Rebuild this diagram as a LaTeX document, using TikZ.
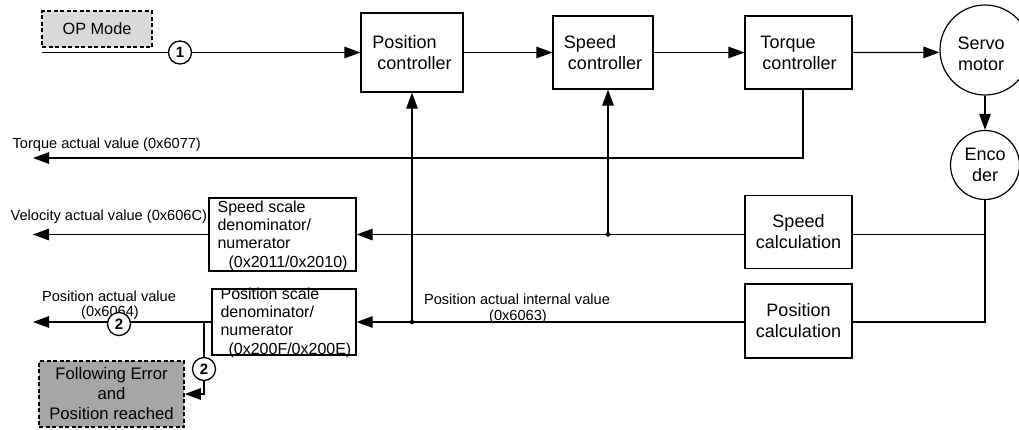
\documentclass[tikz,border=0pt]{standalone}
\usepackage{fontspec}
\setmainfont{Liberation Sans}
\usetikzlibrary{arrows.meta}
\definecolor{opgray}{RGB}{217,217,217}
\definecolor{fegray}{RGB}{166,166,166}
\begin{document}
\begin{tikzpicture}[x=1pt,y=-1pt,line width=1.2pt,
  arr/.style={-{Triangle[length=16pt,width=11.5pt]}},
  blk/.style={draw,line width=1.2pt,inner sep=0pt,font=\fontsize{18}{21}\selectfont},
  scalebox/.style={draw,line width=1.2pt,inner sep=0pt},
  scaletxt/.style={anchor=north west,inner sep=0pt,align=left,font=\fontsize{16}{18.2}\selectfont},
  dashbox/.style={draw,line width=1.7pt,dash pattern=on 4pt off 2.5pt,inner sep=0pt},
  small/.style={inner sep=0pt,font=\fontsize{14.6}{17.5}\selectfont,align=center},
  num/.style={circle,draw,fill=white,line width=1.3pt,inner sep=0pt,minimum size=23pt,font=\bfseries\fontsize{15}{15}\selectfont},
  dot/.style={circle,fill,inner sep=0pt,minimum size=4.5pt}
]
\clip (0,0) rectangle (1019,429);
\fill[white] (0,0) rectangle (1019,429);

% top row
\node[dashbox,fill=opgray,minimum width=110pt,minimum height=36pt,font=\fontsize{16.3}{19}\selectfont] (op) at (97,29) {OP Mode};
\node[blk,minimum width=102pt,minimum height=79pt,align=left] (pc) at (412,52.5) {Position\\\hspace*{5pt}controller};
\node[blk,minimum width=100pt,minimum height=73pt,align=left] (sc) at (603,52.5) {Speed\\\hspace*{4pt}controller};
\node[blk,minimum width=107pt,minimum height=73pt,align=left] (tc) at (798.5,52.5) {Torque\\\hspace*{2pt}controller};
\node[circle,draw,line width=1.2pt,minimum size=90pt,inner sep=0pt] (sm) at (985,50) {};
\node[inner sep=0pt,align=center,font=\fontsize{18}{21}\selectfont] (smt) at (981,54) {Servo\\motor};
\node[circle,draw,line width=1.2pt,minimum size=69pt,inner sep=0pt,align=center,font=\fontsize{18}{21}\selectfont] (enc) at (985,165) {Enco\\der};

% calculation boxes
\node[blk,minimum width=107pt,minimum height=73pt,align=center] (scalc) at (798.5,232) {Speed\\calculation};
\node[blk,minimum width=107pt,minimum height=74pt,align=center] (pcalc) at (798.5,321) {Position\\calculation};

% scale boxes
\node[scalebox,minimum width=147pt,minimum height=73pt] (ss) at (282.5,234.5) {};
\node[scaletxt] (sst) at (217,200.3) {Speed scale\\denominator/\\numerator\\\hspace*{11pt}(0x2011/0x2010)};
\node[scalebox,minimum width=144pt,minimum height=66pt] (ps) at (284,322) {};
\node[scaletxt] (pst) at (220,287.3) {Position scale\\denominator/\\numerator\\\hspace*{8pt}(0x200F/0x200E)};

% following error box
\node[dashbox,fill=fegray,minimum width=145pt,minimum height=66pt,align=center,font=\fontsize{16.7}{20}\selectfont] (fe) at (111.5,394) {Following Error\\and\\Position reached};

% free ends and junctions
\coordinate (opstart) at (42,52.5);
\coordinate (tqend) at (33,158);
\coordinate (vend) at (33,234.5);
\coordinate (pend) at (33,322);
\coordinate (j1) at (608,234.5);
\coordinate (j2) at (412,322);
\coordinate (br) at (204,322);

% forward path
\draw[arr] (opstart) -- (pc.west);
\draw[arr] (pc.east) -- (sc.west);
\draw[arr] (sc.east) -- (tc.west);
\draw[arr] (tc.east) -- (sm.183);
\draw[arr] (sm.south) -- (enc.north);

% feedback
\draw[arr] ([xshift=4.5pt]tc.south) |- (tqend);
\draw (enc.south) |- (scalc.east |- ss.east);
\draw (enc.south) |- (pcalc.east |- ps.east);
\draw[arr] (scalc.west |- ss.east) -- (ss.east);
\draw[arr] (pcalc.west |- ps.east) -- (ps.east);
\draw[arr] (j1) -- (j1 |- sc.south);
\draw[arr] (j2) -- (pc.south);
\node[dot] (d1) at (j1) {};
\node[dot] (d2) at (j2) {};
\draw[arr] (ss.west) -- (vend);
\draw[arr] (ps.west) -- (pend);
\draw[arr] (br) |- (fe.east);

% labels
\node[small,anchor=west] (tql) at (12,145) {Torque actual value (0x6077)};
\node[small,anchor=west] (vl) at (10,217) {Velocity actual value (0x606C)};
\node[small] (pl1) at (109,296) {Position actual value};
\node[small] (pl2) at (110,313) {(0x6064)};
\node[small] (pil1) at (517,299) {Position actual internal value};
\node[small] (pil2) at (518,317) {(0x6063)};

% circled numbers
\node[num] (n1) at (180,52.5) {1};
\node[num] (n2a) at (119,324) {2};
\node[num] (n2b) at (204,369) {2};
\end{tikzpicture}
\end{document}
